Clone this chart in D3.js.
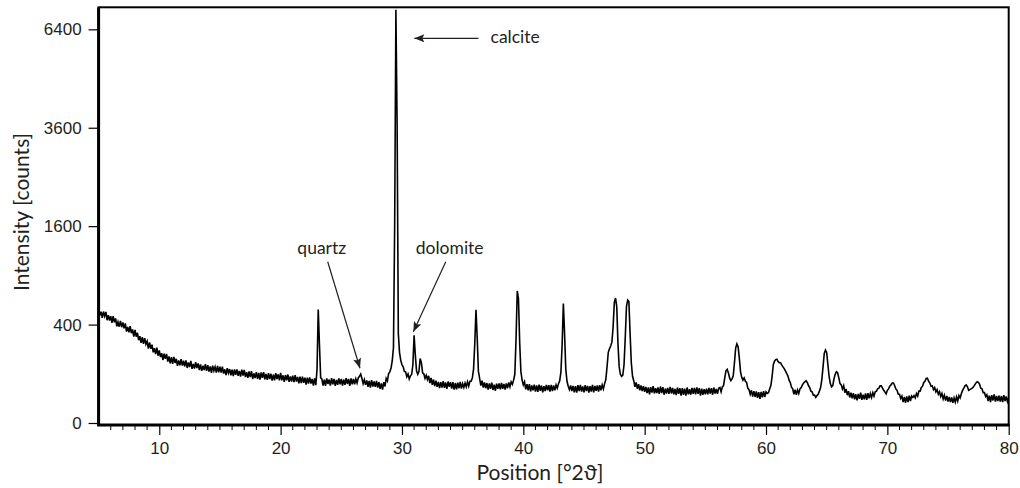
<!DOCTYPE html>
<html lang="en">
<head>
  <meta charset="UTF-8">
  <title>XRD pattern</title>
  <script src="https://d3js.org/d3.v7.min.js"></script>
  <style>
    body {
      margin: 0;
      background: #ffffff;
      font-family: Lato, 'Open Sans', sans-serif;
    }
    .tick text {
      font-size: 17px;
      fill: #231f20;
    }
  </style>
</head>
<body>
  <div id="chart"></div>
  <script>
    // measurement grid (degrees 2theta)
    const startAngle = 5;
    const stepAngle = 0.1;

    // intensity in counts, one value per step
    const counts = [
      542, 477, 512, 456, 513, 471, 510, 436, 480, 434,
      471, 415, 472, 419, 451, 386, 422, 383, 431, 379,
      418, 370, 409, 345, 381, 339, 387, 333, 362, 309,
      358, 308, 336, 283, 311, 265, 304, 258, 297, 256,
      276, 228, 269, 228, 253, 206, 231, 196, 234, 187,
      217, 180, 201, 164, 198, 170, 197, 156, 183, 147,
      179, 145, 181, 149, 170, 135, 162, 137, 169, 136,
      160, 132, 162, 125, 152, 129, 159, 121, 144, 122,
      153, 125, 147, 116, 142, 112, 136, 116, 143, 112,
      138, 109, 132, 104, 136, 113, 130, 105, 135, 106,
      131, 105, 131, 101, 119, 95, 124, 103, 120, 94,
      118, 91, 119, 96, 119, 92, 112, 89, 118, 93,
      116, 87, 107, 84, 110, 87, 111, 80, 102, 83,
      107, 80, 104, 78, 106, 84, 107, 79, 99, 77,
      103, 80, 100, 74, 97, 75, 103, 80, 98, 75,
      104, 75, 94, 70, 95, 75, 97, 70, 90, 71,
      93, 69, 95, 71, 88, 65, 89, 66, 89, 67,
      85, 61, 85, 64, 86, 64, 80, 58, 82, 59,
      118, 532, 255, 84, 80, 58, 78, 57, 82, 63,
      78, 58, 83, 62, 80, 57, 77, 60, 82, 62, 80,
      58, 78, 60, 83, 63, 80, 57, 82, 62, 80,
      62, 80, 66, 84, 90, 99, 82, 64, 78, 60,
      75, 54, 73, 52, 76, 55, 71, 54, 73, 52,
      69, 48, 65, 46, 69, 55, 82, 73, 101, 108,
      125, 160, 235, 1650, 7050, 3700, 330, 205, 162, 140,
      130, 110, 108, 88, 99, 80, 92, 98, 140, 318,
      190, 112, 98, 110, 172, 150, 104, 100, 82, 94,
      78, 92, 66, 84, 60, 78, 56, 74, 54, 70,
      50, 69, 52, 72, 51, 68, 48, 71, 54, 69,
      49, 69, 46, 66, 47, 67, 50, 70, 49, 64,
      52, 66, 54, 70, 56, 72, 72, 84, 120, 260,
      530, 300, 110, 82, 58, 74, 52, 68, 50, 66,
      46, 65, 48, 67, 45, 61, 43, 64, 48, 65,
      47, 66, 48, 63, 46, 65, 50, 68, 54, 70,
      62, 76, 98, 290, 720, 640, 270, 110, 76, 60,
      70, 47, 62, 44, 62, 41, 58, 44, 61, 41,
      58, 40, 61, 43, 58, 39, 56, 42, 60, 44,
      59, 41, 60, 42, 58, 44, 60, 50, 64, 74,
      108, 255, 590, 330, 120, 72, 56, 46, 58, 42,
      57, 39, 56, 38, 59, 42, 60, 41, 55, 39,
      59, 42, 57, 38, 56, 41, 60, 39, 57, 43,
      58, 41, 59, 44, 60, 48, 64, 78, 130, 205,
      228, 245, 270, 380, 600, 645, 560, 260, 130, 98,
      90, 95, 140, 300, 560, 625, 610, 330, 150, 90,
      74, 54, 68, 48, 62, 44, 58, 42, 56, 40,
      54, 37, 52, 34, 53, 38, 56, 36, 50, 37,
      52, 35, 55, 37, 53, 33, 49, 36, 51, 35,
      54, 36, 51, 34, 48, 32, 52, 35, 50, 31,
      50, 33, 49, 31, 52, 34, 47, 33, 51, 35,
      51, 34, 52, 35, 50, 31, 49, 33, 47, 34,
      49, 34, 51, 36, 50, 33, 52, 36, 48, 35, 50,
      52, 40, 54, 58, 84, 112, 119, 104, 84, 74,
      80, 92, 150, 232, 258, 240, 175, 108, 86, 76,
      84, 72, 68, 50, 46, 34, 44, 29, 42, 28,
      41, 26, 39, 24, 40, 27, 42, 28, 40, 36,
      38, 48, 58, 88, 140, 158, 166, 168, 155, 150,
      150, 138, 130, 122, 112, 102, 92, 76, 68, 53,
      48, 34, 46, 33, 45, 36, 48, 52, 60, 66,
      70, 74, 68, 58, 52, 42, 40, 32, 32, 27,
      31, 34, 42, 52, 78, 130, 200, 220, 205, 140,
      90, 64, 54, 58, 80, 98, 108, 104, 84, 64,
      60, 48, 58, 38, 48, 32, 42, 27, 38, 25,
      37, 23, 34, 21, 35, 24, 38, 22, 33, 23,
      36, 22, 37, 25, 36, 27, 38, 30, 40, 42,
      48, 50, 57, 57, 50, 44, 40, 35, 44, 48,
      56, 60, 66, 66, 58, 48, 44, 34, 34, 25,
      30, 18, 28, 17, 29, 18, 31, 20, 30, 27,
      31, 26, 36, 30, 42, 42, 52, 56, 68, 72, 82,
      83, 72, 66, 56, 57, 46, 52, 40, 46, 34,
      40, 29, 36, 24, 32, 21, 30, 19, 28, 18,
      27, 17, 26, 18, 28, 20, 31, 26, 36,
      44, 50, 57, 60, 54, 44, 46, 48, 50, 54,
      60, 66, 70, 68, 62, 50, 48, 38, 38, 29,
      33, 20, 31, 18, 32, 21, 34, 19, 30, 20,
      31, 19, 30, 18, 32, 20, 29, 19,
      26
    ];

    const yTicks = [0, 400, 1600, 3600, 6400];
    const xTicks = [10, 20, 30, 40, 50, 60, 70, 80];
    const xMinorTicks = d3.range(6, 81);

    // phase labels: text anchor point and arrow tail/tip, in data units
    const phaseNames = ["calcite", "quartz", "dolomite"];
    const labelAt = [[37.3, 5960], [23.39, 1179], [33.93, 1179]];
    const arrowFrom = [[36.3, 6111], [23.88, 1074], [33.61, 1074]];
    const arrowTo = [[31.02, 6111], [26.54, 124], [30.94, 344]];

    const width = 1020, height = 488;
    const svg = d3.select("#chart").append("svg")
      .attr("width", width)
      .attr("height", height);

    const x = d3.scaleLinear().domain([5, 80]).range([98.6, 1008.7]);
    const y = d3.scaleSqrt().domain([0, 7136]).range([423, 7.3]);

    const points = counts.map((c, i) => ({ angle: startAngle + i * stepAngle, value: c }));

    svg.append("defs").append("clipPath").attr("id", "plotClip")
      .append("rect")
      .attr("x", x(5)).attr("y", y(7136))
      .attr("width", x(80) - x(5)).attr("height", 425 - y(7136));

    svg.append("defs").append("marker")
      .attr("id", "arrowHead")
      .attr("viewBox", "0 0 10 8")
      .attr("refX", 10).attr("refY", 4)
      .attr("markerWidth", 11).attr("markerHeight", 8)
      .attr("markerUnits", "userSpaceOnUse")
      .attr("orient", "auto")
      .append("path")
      .attr("d", "M0,0 L10,4 L0,8 L2,4 Z")
      .attr("fill", "#231f20");

    // pattern
    const line = d3.line()
      .x(d => x(d.angle))
      .y(d => y(d.value));

    svg.append("path")
      .datum(points)
      .attr("clip-path", "url(#plotClip)")
      .attr("fill", "none")
      .attr("stroke", "#000")
      .attr("stroke-width", 1.6)
      .attr("stroke-linejoin", "miter")
      .attr("d", line);

    // frame
    svg.append("rect")
      .attr("x", x(5)).attr("y", y(7136))
      .attr("width", x(80) - x(5)).attr("height", 425 - y(7136))
      .attr("fill", "none")
      .attr("stroke", "#000")
      .attr("stroke-width", 2);

    // y axis
    const yAxis = svg.append("g")
      .attr("transform", `translate(${x(5)},0)`)
      .call(d3.axisLeft(y).tickValues(yTicks).tickSize(10).tickPadding(7).tickFormat(d3.format("d")));
    yAxis.select(".domain").attr("stroke-width", 3).attr("d", `M0,${y(7136)}V425`);
    yAxis.selectAll(".tick line").attr("stroke-width", 1.2);

    // x axis
    const xAxis = svg.append("g")
      .attr("transform", "translate(0,425)")
      .call(d3.axisBottom(x).tickValues(xTicks).tickSize(10).tickPadding(7).tickFormat(d3.format("d")));
    xAxis.select(".domain").attr("stroke-width", 3).attr("d", `M${x(5) - 1.5},0H${x(80) + 1}`);
    xAxis.selectAll(".tick line").attr("stroke-width", 1.2);

    svg.append("g")
      .attr("transform", "translate(0,425)")
      .selectAll("line")
      .data(xMinorTicks.filter(d => d % 10 !== 0))
      .enter().append("line")
      .attr("x1", d => x(d)).attr("x2", d => x(d))
      .attr("y1", 0).attr("y2", 5)
      .attr("stroke", "#000")
      .attr("stroke-width", 1);

    // axis titles
    svg.append("text")
      .attr("transform", "translate(29,212) rotate(-90)")
      .attr("text-anchor", "middle")
      .style("font-size", "21px")
      .attr("fill", "#231f20")
      .text("Intensity [counts]");

    svg.append("text")
      .attr("x", 540).attr("y", 480)
      .attr("text-anchor", "middle")
      .style("font-size", "21px")
      .attr("fill", "#231f20")
      .text("Position [°2ϑ]");

    // phase annotations
    phaseNames.forEach((name, i) => {
      svg.append("line")
        .attr("x1", x(arrowFrom[i][0])).attr("y1", y(arrowFrom[i][1]))
        .attr("x2", x(arrowTo[i][0])).attr("y2", y(arrowTo[i][1]))
        .attr("stroke", "#231f20")
        .attr("stroke-width", 1.2)
        .attr("marker-end", "url(#arrowHead)");

      svg.append("text")
        .attr("x", x(labelAt[i][0])).attr("y", y(labelAt[i][1]))
        .attr("text-anchor", i === 0 ? "start" : "middle")
        .style("font-size", "17.5px")
        .attr("fill", "#231f20")
        .text(name);
    });
  </script>
</body>
</html>
